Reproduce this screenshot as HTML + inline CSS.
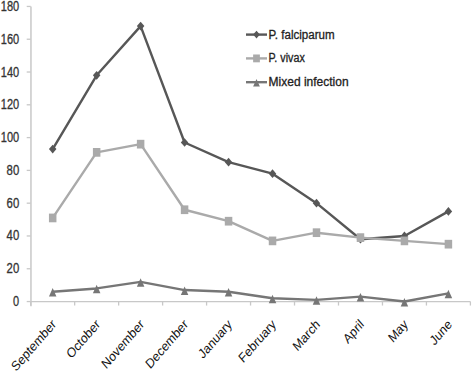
<!DOCTYPE html><html><head><meta charset="utf-8"><style>html,body{margin:0;padding:0;background:#fff;}svg{display:block;font-family:"Liberation Sans",sans-serif;} text{stroke:currentColor;stroke-width:0.3px;}</style></head><body>
<svg width="472" height="372" viewBox="0 0 472 372">
<rect width="472" height="372" fill="#fff"/>
<line x1="30.95" y1="6.439999999999998" x2="30.95" y2="306.15000000000003" stroke="#c8c8c8" stroke-width="1.5"/>
<line x1="30.7" y1="301.55" x2="470.4" y2="301.55" stroke="#c8c8c8" stroke-width="1.3"/>
<line x1="26.7" y1="301.55" x2="30.7" y2="301.55" stroke="#c8c8c8" stroke-width="1.3"/>
<text x="13.10" y="306.05" font-size="13.8" fill="#333" color="#333" textLength="6.10" lengthAdjust="spacingAndGlyphs">0</text>
<line x1="26.7" y1="268.76" x2="30.7" y2="268.76" stroke="#c8c8c8" stroke-width="1.3"/>
<text x="6.60" y="273.26" font-size="13.8" fill="#333" color="#333" textLength="12.60" lengthAdjust="spacingAndGlyphs">20</text>
<line x1="26.7" y1="235.97" x2="30.7" y2="235.97" stroke="#c8c8c8" stroke-width="1.3"/>
<text x="6.60" y="240.47" font-size="13.8" fill="#333" color="#333" textLength="12.60" lengthAdjust="spacingAndGlyphs">40</text>
<line x1="26.7" y1="203.18" x2="30.7" y2="203.18" stroke="#c8c8c8" stroke-width="1.3"/>
<text x="6.60" y="207.68" font-size="13.8" fill="#333" color="#333" textLength="12.60" lengthAdjust="spacingAndGlyphs">60</text>
<line x1="26.7" y1="170.39" x2="30.7" y2="170.39" stroke="#c8c8c8" stroke-width="1.3"/>
<text x="6.60" y="174.89" font-size="13.8" fill="#333" color="#333" textLength="12.60" lengthAdjust="spacingAndGlyphs">80</text>
<line x1="26.7" y1="137.60" x2="30.7" y2="137.60" stroke="#c8c8c8" stroke-width="1.3"/>
<text x="0.80" y="142.10" font-size="13.8" fill="#333" color="#333" textLength="18.40" lengthAdjust="spacingAndGlyphs">100</text>
<line x1="26.7" y1="104.81" x2="30.7" y2="104.81" stroke="#c8c8c8" stroke-width="1.3"/>
<text x="0.80" y="109.31" font-size="13.8" fill="#333" color="#333" textLength="18.40" lengthAdjust="spacingAndGlyphs">120</text>
<line x1="26.7" y1="72.02" x2="30.7" y2="72.02" stroke="#c8c8c8" stroke-width="1.3"/>
<text x="0.80" y="76.52" font-size="13.8" fill="#333" color="#333" textLength="18.40" lengthAdjust="spacingAndGlyphs">140</text>
<line x1="26.7" y1="39.23" x2="30.7" y2="39.23" stroke="#c8c8c8" stroke-width="1.3"/>
<text x="0.80" y="43.73" font-size="13.8" fill="#333" color="#333" textLength="18.40" lengthAdjust="spacingAndGlyphs">160</text>
<line x1="26.7" y1="6.44" x2="30.7" y2="6.44" stroke="#c8c8c8" stroke-width="1.3"/>
<text x="0.80" y="10.94" font-size="13.8" fill="#333" color="#333" textLength="18.40" lengthAdjust="spacingAndGlyphs">180</text>
<line x1="30.70" y1="301.55" x2="30.70" y2="305.55" stroke="#c8c8c8" stroke-width="1.3"/>
<line x1="74.67" y1="301.55" x2="74.67" y2="305.55" stroke="#c8c8c8" stroke-width="1.3"/>
<line x1="118.64" y1="301.55" x2="118.64" y2="305.55" stroke="#c8c8c8" stroke-width="1.3"/>
<line x1="162.61" y1="301.55" x2="162.61" y2="305.55" stroke="#c8c8c8" stroke-width="1.3"/>
<line x1="206.58" y1="301.55" x2="206.58" y2="305.55" stroke="#c8c8c8" stroke-width="1.3"/>
<line x1="250.55" y1="301.55" x2="250.55" y2="305.55" stroke="#c8c8c8" stroke-width="1.3"/>
<line x1="294.52" y1="301.55" x2="294.52" y2="305.55" stroke="#c8c8c8" stroke-width="1.3"/>
<line x1="338.49" y1="301.55" x2="338.49" y2="305.55" stroke="#c8c8c8" stroke-width="1.3"/>
<line x1="382.46" y1="301.55" x2="382.46" y2="305.55" stroke="#c8c8c8" stroke-width="1.3"/>
<line x1="426.43" y1="301.55" x2="426.43" y2="305.55" stroke="#c8c8c8" stroke-width="1.3"/>
<line x1="470.40" y1="301.55" x2="470.40" y2="305.55" stroke="#c8c8c8" stroke-width="1.3"/>
<text transform="translate(56.89,325.15) scale(1,1.15) rotate(-45)" text-anchor="end" font-size="11.8" fill="#111" style="stroke:none">September</text>
<text transform="translate(100.86,325.15) scale(1,1.15) rotate(-45)" text-anchor="end" font-size="11.8" fill="#111" style="stroke:none">October</text>
<text transform="translate(144.82,325.15) scale(1,1.15) rotate(-45)" text-anchor="end" font-size="11.8" fill="#111" style="stroke:none">November</text>
<text transform="translate(188.79,325.15) scale(1,1.15) rotate(-45)" text-anchor="end" font-size="11.8" fill="#111" style="stroke:none">December</text>
<text transform="translate(232.76,325.15) scale(1,1.15) rotate(-45)" text-anchor="end" font-size="11.8" fill="#111" style="stroke:none">January</text>
<text transform="translate(276.73,325.15) scale(1,1.15) rotate(-45)" text-anchor="end" font-size="11.8" fill="#111" style="stroke:none">February</text>
<text transform="translate(320.70,325.15) scale(1,1.15) rotate(-45)" text-anchor="end" font-size="11.8" fill="#111" style="stroke:none">March</text>
<text transform="translate(364.67,325.15) scale(1,1.15) rotate(-45)" text-anchor="end" font-size="11.8" fill="#111" style="stroke:none">April</text>
<text transform="translate(408.64,325.15) scale(1,1.15) rotate(-45)" text-anchor="end" font-size="11.8" fill="#111" style="stroke:none">May</text>
<text transform="translate(452.61,325.15) scale(1,1.15) rotate(-45)" text-anchor="end" font-size="11.8" fill="#111" style="stroke:none">June</text>
<polyline points="52.69,149.08 96.66,75.30 140.62,26.11 184.59,142.52 228.56,162.19 272.53,173.67 316.50,203.18 360.47,239.25 404.44,235.97 448.41,211.38" fill="none" stroke="#575757" stroke-width="2.4" stroke-linejoin="round"/>
<path d="M52.69 144.73L56.44 149.08L52.69 153.43L48.94 149.08Z" fill="#575757"/>
<path d="M96.66 70.95L100.41 75.30L96.66 79.65L92.91 75.30Z" fill="#575757"/>
<path d="M140.62 21.76L144.38 26.11L140.62 30.46L136.88 26.11Z" fill="#575757"/>
<path d="M184.59 138.17L188.34 142.52L184.59 146.87L180.84 142.52Z" fill="#575757"/>
<path d="M228.56 157.84L232.31 162.19L228.56 166.54L224.81 162.19Z" fill="#575757"/>
<path d="M272.53 169.32L276.28 173.67L272.53 178.02L268.78 173.67Z" fill="#575757"/>
<path d="M316.50 198.83L320.25 203.18L316.50 207.53L312.75 203.18Z" fill="#575757"/>
<path d="M360.47 234.90L364.22 239.25L360.47 243.60L356.72 239.25Z" fill="#575757"/>
<path d="M404.44 231.62L408.19 235.97L404.44 240.32L400.69 235.97Z" fill="#575757"/>
<path d="M448.41 207.03L452.16 211.38L448.41 215.73L444.66 211.38Z" fill="#575757"/>
<polyline points="52.69,217.94 96.66,152.36 140.62,144.16 184.59,209.74 228.56,221.21 272.53,240.89 316.50,232.69 360.47,237.61 404.44,240.89 448.41,244.17" fill="none" stroke="#aaaaaa" stroke-width="2.4" stroke-linejoin="round"/>
<rect x="48.94" y="213.59" width="7.50" height="8.70" fill="#aaaaaa"/>
<rect x="92.91" y="148.01" width="7.50" height="8.70" fill="#aaaaaa"/>
<rect x="136.88" y="139.81" width="7.50" height="8.70" fill="#aaaaaa"/>
<rect x="180.84" y="205.39" width="7.50" height="8.70" fill="#aaaaaa"/>
<rect x="224.81" y="216.86" width="7.50" height="8.70" fill="#aaaaaa"/>
<rect x="268.78" y="236.54" width="7.50" height="8.70" fill="#aaaaaa"/>
<rect x="312.75" y="228.34" width="7.50" height="8.70" fill="#aaaaaa"/>
<rect x="356.72" y="233.26" width="7.50" height="8.70" fill="#aaaaaa"/>
<rect x="400.69" y="236.54" width="7.50" height="8.70" fill="#aaaaaa"/>
<rect x="444.66" y="239.82" width="7.50" height="8.70" fill="#aaaaaa"/>
<polyline points="52.69,291.71 96.66,288.43 140.62,281.88 184.59,290.07 228.56,291.71 272.53,298.27 316.50,299.91 360.47,296.63 404.44,301.55 448.41,293.35" fill="none" stroke="#767676" stroke-width="2.4" stroke-linejoin="round"/>
<path d="M52.69 288.11L56.44 296.61L48.94 296.61Z" fill="#767676"/>
<path d="M96.66 284.83L100.41 293.33L92.91 293.33Z" fill="#767676"/>
<path d="M140.62 278.28L144.38 286.78L136.88 286.78Z" fill="#767676"/>
<path d="M184.59 286.47L188.34 294.97L180.84 294.97Z" fill="#767676"/>
<path d="M228.56 288.11L232.31 296.61L224.81 296.61Z" fill="#767676"/>
<path d="M272.53 294.67L276.28 303.17L268.78 303.17Z" fill="#767676"/>
<path d="M316.50 296.31L320.25 304.81L312.75 304.81Z" fill="#767676"/>
<path d="M360.47 293.03L364.22 301.53L356.72 301.53Z" fill="#767676"/>
<path d="M404.44 297.95L408.19 306.45L400.69 306.45Z" fill="#767676"/>
<path d="M448.41 289.75L452.16 298.25L444.66 298.25Z" fill="#767676"/>
<line x1="246" y1="34.6" x2="267" y2="34.6" stroke="#575757" stroke-width="2.4"/>
<path d="M256.50 30.69L259.88 34.60L256.50 38.52L253.12 34.60Z" fill="#575757"/>
<text x="268.6" y="38.60" font-size="12" fill="#222" color="#222" textLength="66.0" lengthAdjust="spacingAndGlyphs">P. falciparum</text>
<line x1="246" y1="58.400000000000006" x2="267" y2="58.400000000000006" stroke="#aaaaaa" stroke-width="2.4"/>
<rect x="253.12" y="54.49" width="6.75" height="7.83" fill="#aaaaaa"/>
<text x="268.6" y="62.40" font-size="12" fill="#222" color="#222" textLength="36.2" lengthAdjust="spacingAndGlyphs">P. vivax</text>
<line x1="246" y1="82.2" x2="267" y2="82.2" stroke="#767676" stroke-width="2.4"/>
<path d="M256.50 78.96L259.88 86.61L253.12 86.61Z" fill="#767676"/>
<text x="268.6" y="86.20" font-size="12" fill="#222" color="#222" textLength="80.0" lengthAdjust="spacingAndGlyphs">Mixed infection</text>
</svg></body></html>
